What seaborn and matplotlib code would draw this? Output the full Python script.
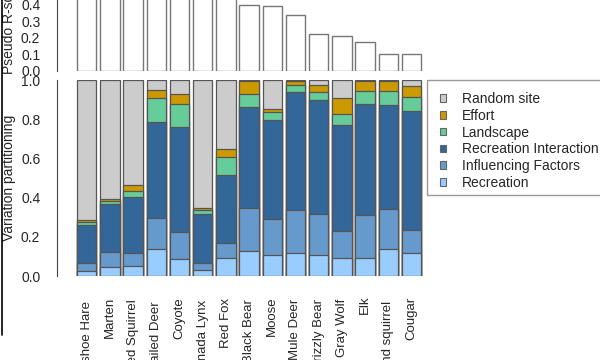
import matplotlib
matplotlib.use("Agg")
import matplotlib.pyplot as plt
from matplotlib.patches import Patch, Rectangle
from matplotlib.lines import Line2D
import numpy as np
import seaborn as sns

sns.set_style("white")
plt.rcParams['font.family'] = ['Liberation Sans', 'DejaVu Sans']

species = ["Snowshoe Hare", "Marten", "Red Squirrel", "White-tailed Deer", "Coyote",
           "Canada Lynx", "Red Fox", "Black Bear", "Moose", "Mule Deer",
           "Grizzly Bear", "Gray Wolf", "Elk", "Ground squirrel", "Cougar"]

# pseudo R-squared (top panel); first seven run off the top of the picture
pseudo_r2 = [0.62, 0.58, 0.55, 0.52, 0.50, 0.47, 0.45,
             0.40, 0.39, 0.337, 0.225, 0.213, 0.173, 0.102, 0.102]

# variation partitioning components (bottom panel)
recreation = [0.027, 0.046, 0.049, 0.138, 0.087, 0.031, 0.092, 0.126, 0.105, 0.119, 0.109, 0.094, 0.090, 0.138, 0.116]
influencing = [0.041, 0.076, 0.067, 0.156, 0.136, 0.037, 0.076, 0.223, 0.184, 0.216, 0.206, 0.137, 0.220, 0.206, 0.117]
interaction = [0.192, 0.245, 0.287, 0.490, 0.537, 0.248, 0.347, 0.515, 0.509, 0.605, 0.583, 0.538, 0.568, 0.530, 0.611]
landscape = [0.016, 0.016, 0.029, 0.122, 0.116, 0.019, 0.090, 0.065, 0.037, 0.034, 0.039, 0.056, 0.066, 0.070, 0.068]
effort = [0.010, 0.008, 0.032, 0.045, 0.051, 0.010, 0.045, 0.066, 0.015, 0.023, 0.037, 0.083, 0.051, 0.051, 0.057]
random_site = [0.714, 0.609, 0.536, 0.049, 0.073, 0.655, 0.350, 0.005, 0.150, 0.003, 0.026, 0.092, 0.005, 0.005, 0.031]

layers = [("Recreation", recreation, "#99CCFF"),
          ("Influencing Factors", influencing, "#6699CC"),
          ("Recreation Interaction", interaction, "#336699"),
          ("Landscape", landscape, "#66CC99"),
          ("Effort", effort, "#CC9900"),
          ("Random site", random_site, "#CCCCCC")]

W, H = 600, 360
fig = plt.figure(figsize=(6, 3.6), dpi=100)

ax_left, ax_right = 57, 425
xlim = ((ax_left - 86.7) / 23.2, (ax_right - 86.7) / 23.2)

# top panel: runs above the figure edge (cropped like the reference)
ax1 = fig.add_axes([ax_left / W, (H - 71) / H, (ax_right - ax_left) / W, 111 / H])
# bottom panel
ax2 = fig.add_axes([ax_left / W, (H - 276) / H, (ax_right - ax_left) / W, 196 / H])

edge = "#777777"
sns.barplot(x=species, y=pseudo_r2, order=species, color="white", saturation=1,
            edgecolor=edge, linewidth=1, width=0.83, errorbar=None, ax=ax1)

cum = np.cumsum([np.array(v) for _, v, _ in layers], axis=0)
for i in range(len(layers) - 1, -1, -1):
    sns.barplot(x=species, y=cum[i], order=species, color=layers[i][2], saturation=1,
                edgecolor="#555555", linewidth=0.9, width=0.83, errorbar=None, ax=ax2)

for ax in (ax1, ax2):
    ax.set_xlim(*xlim)
    for s in ("top", "right", "bottom"):
        ax.spines[s].set_visible(False)
    ax.spines["left"].set_color("#444444")
    ax.spines["left"].set_linewidth(0.8)
    ax.tick_params(axis="y", length=4, width=0.8, color="#444444", pad=8, labelsize=10)
    ax.grid(False)

ax1.set_ylim(0, 0.669)
ax1.set_yticks([0, 0.1, 0.2, 0.3, 0.4, 0.5, 0.6])
ax1.set_yticklabels(["0.0", "0.1", "0.2", "0.3", "0.4", "0.5", "0.6"])
ax1.spines["left"].set_bounds(0, 0.6)
ax1.set_xticks([])
ax1.set_ylabel("Pseudo R-squared", fontsize=10)
ax1.yaxis.set_label_coords((16 - ax_left) / (ax_right - ax_left), 0.5)

ax2.set_ylim(0, 1)
ax2.set_yticks([0, 0.2, 0.4, 0.6, 0.8, 1.0])
ax2.set_yticklabels(["0.0", "0.2", "0.4", "0.6", "0.8", "1.0"])
ax2.spines["left"].set_bounds(0, 1)
ax2.set_ylabel("Variation partitioning", fontsize=10)
ax2.yaxis.set_label_coords((16 - ax_left) / (ax_right - ax_left), 0.5)
ax2.tick_params(axis="x", length=0, pad=12.7, labelsize=9.5, rotation=90)
for lab in ax2.get_xticklabels():
    lab.set_verticalalignment("top")

# longer names sit a little lower, as in the R output
fig.canvas.draw()
renderer = fig.canvas.get_renderer()
for lab in ax2.get_xticklabels():
    h = lab.get_window_extent(renderer).height
    lab.set_y(-0.08 * h / 196)

# legend box (runs off the right edge)
fig.add_artist(Rectangle((427 / W, (H - 195) / H), 200 / W, 115 / H, transform=fig.transFigure,
                         fill=False, edgecolor="#999999", linewidth=1))
handles = [Patch(facecolor=c, edgecolor="#666666", linewidth=0.8) for _, _, c in layers[::-1]]
labels = [n for n, _, _ in layers[::-1]]
fig.legend(handles, labels, loc="upper left", bbox_to_anchor=(440 / W, (H - 92) / H),
           bbox_transform=fig.transFigure, frameon=False, fontsize=10,
           handlelength=0.45, handleheight=0.45, handletextpad=1.15,
           labelspacing=0.2, borderpad=0, borderaxespad=0)

# black rule at the left edge
fig.add_artist(Line2D([1.5 / W, 1.5 / W], [1, (H - 335) / H], transform=fig.transFigure,
                      color="black", linewidth=1.2))

fig.savefig("out.png", dpi=100)
